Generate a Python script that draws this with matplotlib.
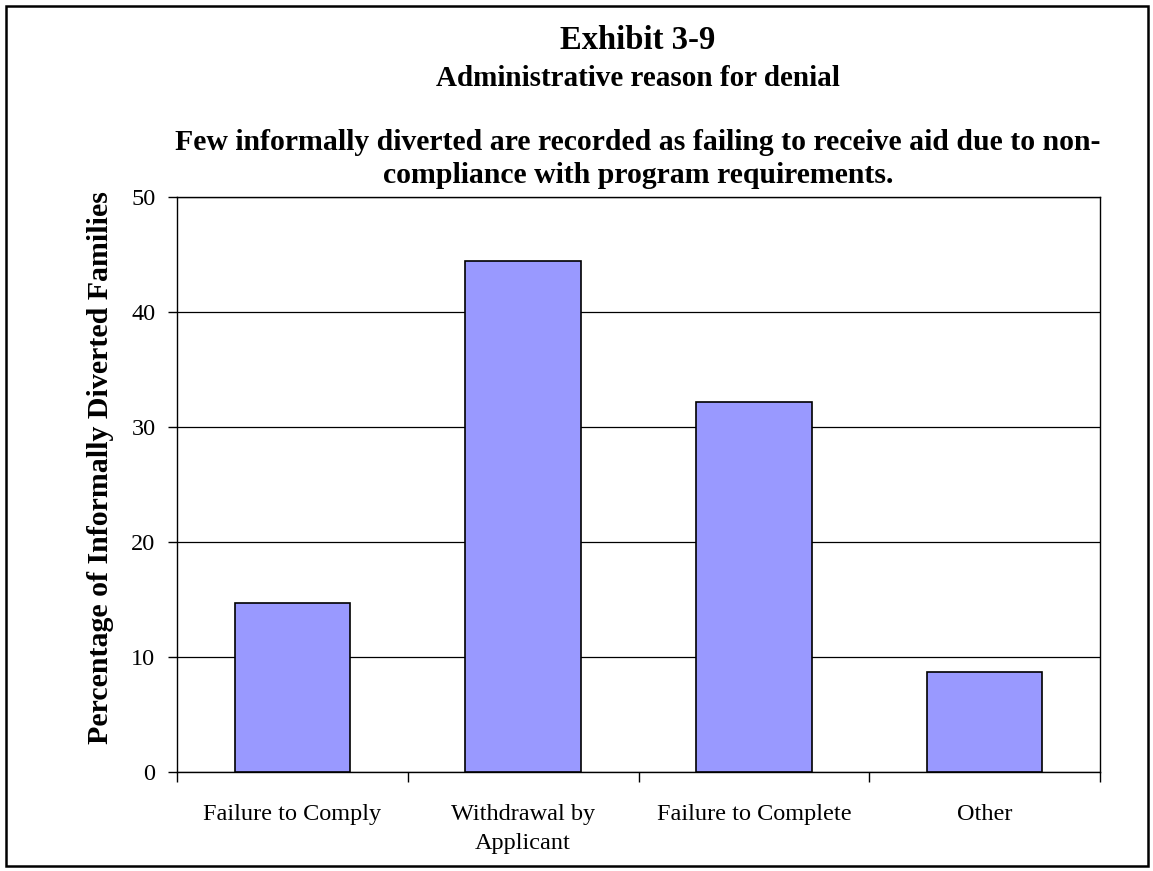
import matplotlib.pyplot as plt
import matplotlib.patches as patches
import numpy as np

# Daten
kategorien = ["Failure to Comply", "Withdrawal by\nApplicant", "Failure to Complete", "Other"]
prozente = [14.7, 44.4, 32.2, 8.7]
y_ticks = [0, 10, 20, 30, 40, 50]

plt.rcParams["font.family"] = ["Liberation Serif", "DejaVu Serif"]

W, H = 1153, 871
fig = plt.figure(figsize=(W / 100, H / 100), dpi=100)
ax = fig.add_axes([177 / W, 1 - 772 / H, (1100 - 177) / W, (772 - 197) / H])

x = np.arange(len(kategorien))
ax.bar(x, prozente, width=0.5, color="#9999ff", edgecolor="black", linewidth=1.2, zorder=3)

ax.set_xlim(-0.5, len(kategorien) - 0.5)
ax.set_ylim(0, 50)
ax.set_yticks(y_ticks)
ax.yaxis.grid(True, color="black", linewidth=0.9, zorder=0)
ax.tick_params(axis="y", direction="out", length=6.5, width=1, labelsize=17.5, pad=9)

# Kategorien in der Mitte, Striche an den Grenzen
ax.set_xticks(x)
ax.set_xticklabels(kategorien, fontsize=17.5, linespacing=1.5)
ax.set_xticks(np.arange(-0.5, len(kategorien)), minor=True)
ax.tick_params(axis="x", which="major", length=0, pad=23)
ax.tick_params(axis="x", which="minor", direction="out", length=7, width=1)

for spine in ax.spines.values():
    spine.set_linewidth(1)
    spine.set_color("black")

ax.set_ylabel("Percentage of Informally Diverted Families", fontsize=21.5, fontweight="bold")
ax.yaxis.set_label_coords(-0.068, 0.53)

# Titelzeilen
cx = 638 / W
fig.text(cx, 1 - 49 / H, "Exhibit 3-9", ha="center", va="baseline", fontsize=23.5, fontweight="bold")
fig.text(cx, 1 - 86 / H, "Administrative reason for denial", ha="center", va="baseline",
         fontsize=21, fontweight="bold")
fig.text(cx, 1 - 150 / H, "Few informally diverted are recorded as failing to receive aid due to non-",
         ha="center", va="baseline", fontsize=21.4, fontweight="bold")
fig.text(cx, 1 - 183 / H, "compliance with program requirements.",
         ha="center", va="baseline", fontsize=21.4, fontweight="bold")

# Rahmen um die ganze Grafik
rahmen = patches.Rectangle((6 / W, 5 / H), 1142 / W, 860 / H, transform=fig.transFigure,
                           fill=False, edgecolor="black", linewidth=1.8)
fig.patches.append(rahmen)

fig.savefig("out.png", dpi=100)
